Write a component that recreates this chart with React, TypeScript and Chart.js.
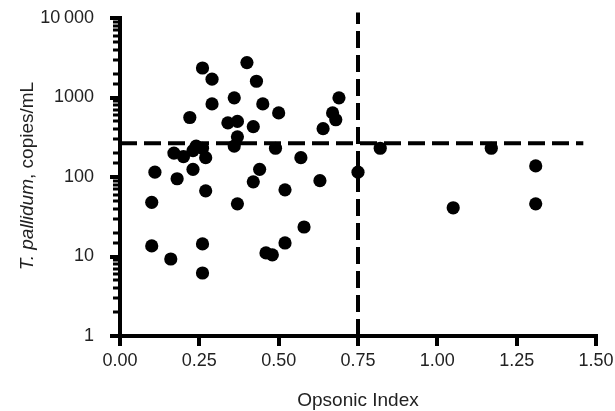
import { useEffect, useRef } from 'react';
import { Chart, registerables } from 'chart.js';

Chart.register(...registerables);

const opsonicIndex = [0.26, 0.29, 0.40, 0.43, 0.29, 0.36, 0.45, 0.50, 0.22, 0.34, 0.37, 0.42, 0.37, 0.36, 0.24, 0.26, 0.17, 0.20, 0.23, 0.27, 0.49, 0.57, 0.11, 0.18, 0.23, 0.44, 0.42, 0.27, 0.52, 0.10, 0.37, 0.69, 0.67, 0.68, 0.64, 0.82, 1.17, 0.75, 0.63, 1.31, 1.05, 1.31, 0.58, 0.10, 0.16, 0.26, 0.26, 0.46, 0.48, 0.52];
const copiesPerMl = [2350, 1700, 2750, 1600, 830, 990, 830, 640, 560, 480, 500, 430, 320, 245, 245, 230, 200, 180, 215, 175, 230, 175, 115, 95, 125, 125, 87, 67, 69, 48, 46, 990, 640, 525, 405, 230, 230, 115, 90, 138, 41, 46, 23.5, 13.6, 9.3, 14.4, 6.2, 11.1, 10.5, 14.8];

const thresholdCopies = 265;
const thresholdIndex = 0.75;
const xTicks = [0, 0.25, 0.5, 0.75, 1, 1.25, 1.5];
const yMajorLabels = ['1', '10', '100', '1000', '10\u2009000'];

const FONT = '"Liberation Sans", Arial, sans-serif';
const TEXT = '#222';

const axisPlugin = {
  id: 'axisDecor',
  afterDraw(chart: any) {
    const { ctx, chartArea, scales } = chart;
    const y = scales.y;
    ctx.save();
    ctx.strokeStyle = '#000';
    for (const t of y.ticks) {
      const p = Math.round(y.getPixelForValue(t.value));
      const major = Math.abs(Math.log10(t.value) - Math.round(Math.log10(t.value))) < 1e-9;
      ctx.lineWidth = major ? 4 : 3;
      ctx.beginPath();
      ctx.moveTo(chartArea.left - (major ? 10 : 7), p);
      ctx.lineTo(chartArea.left, p);
      ctx.stroke();
    }
    // y title
    ctx.fillStyle = TEXT;
    ctx.textBaseline = 'middle';
    const italic = 'T. pallidum';
    const rest = ', copies/mL';
    ctx.font = `italic 19px ${FONT}`;
    const w1 = ctx.measureText(italic).width;
    ctx.font = `19px ${FONT}`;
    const w2 = ctx.measureText(rest).width;
    const total = w1 + w2;
    ctx.translate(28, 176);
    ctx.rotate(-Math.PI / 2);
    ctx.textAlign = 'left';
    ctx.font = `italic 19px ${FONT}`;
    ctx.fillText(italic, -total / 2, 0);
    ctx.font = `19px ${FONT}`;
    ctx.fillText(rest, -total / 2 + w1, 0);
    ctx.restore();
    // x title
    ctx.save();
    ctx.fillStyle = TEXT;
    ctx.font = `19px ${FONT}`;
    ctx.textAlign = 'center';
    ctx.textBaseline = 'middle';
    ctx.fillText('Opsonic Index', (chartArea.left + chartArea.right) / 2, 401);
    ctx.restore();
  },
};

export default function App() {
  const ref = useRef<HTMLCanvasElement>(null);
  useEffect(() => {
    const points = opsonicIndex.map((x, i) => ({ x, y: copiesPerMl[i] }));
    const chart = new Chart(ref.current as HTMLCanvasElement, {
      type: 'scatter',
      data: {
        datasets: [
          {
            type: 'line',
            data: [{ x: 0, y: thresholdCopies }, { x: 1.46, y: thresholdCopies }],
            borderColor: '#000',
            borderWidth: 4,
            borderDash: [17, 7],
            pointRadius: 0,
            clip: false,
            order: 2,
          } as any,
          {
            type: 'line',
            data: [{ x: thresholdIndex, y: 1 }, { x: thresholdIndex, y: 11700 }],
            borderColor: '#000',
            borderWidth: 4,
            borderDash: [17, 7],
            pointRadius: 0,
            clip: false,
            order: 2,
          } as any,
          {
            data: points,
            backgroundColor: '#000',
            borderColor: '#000',
            pointRadius: 6.6,
            pointBorderWidth: 0,
            order: 1,
          },
        ],
      },
      options: {
        animation: false,
        responsive: true,
        maintainAspectRatio: false,
        layout: { padding: { left: 0, right: 19, top: 18, bottom: 0 } },
        plugins: { legend: { display: false }, tooltip: { enabled: false } },
        scales: {
          x: {
            type: 'linear',
            min: 0,
            max: 1.5,
            afterFit: (s: any) => { s.height = 75; s.paddingLeft = 0; s.paddingRight = 0; },
            afterBuildTicks: (s: any) => { s.ticks = xTicks.map((v) => ({ value: v })); },
            ticks: {
              color: TEXT,
              font: { family: FONT, size: 18 },
              padding: 4,
              callback: (v: any) => Number(v).toFixed(2),
            },
            grid: { display: true, drawOnChartArea: false, color: '#000', lineWidth: 4, tickLength: 10 },
            border: { display: true, color: '#000', width: 4 },
          },
          y: {
            type: 'logarithmic',
            min: 1,
            max: 10000,
            afterFit: (s: any) => { s.width = 120; s.paddingTop = 0; s.paddingBottom = 0; },
            ticks: {
              color: TEXT,
              font: { family: FONT, size: 18 },
              padding: 16,
              autoSkip: false,
              callback: (v: any) => {
                const l = Math.log10(Number(v));
                if (Math.abs(l - Math.round(l)) < 1e-9) return yMajorLabels[Math.round(l)];
                return '';
              },
            },
            grid: { display: true, drawOnChartArea: false, color: 'rgba(0,0,0,0)', tickLength: 10 },
            border: { display: true, color: '#000', width: 4 },
          },
        },
      },
      plugins: [axisPlugin],
    });
    return () => chart.destroy();
  }, []);
  return (
    <div style={{ position: 'absolute', left: 0, top: 0, width: 615, height: 411, background: '#fff' }}>
      <canvas ref={ref} />
    </div>
  );
}
